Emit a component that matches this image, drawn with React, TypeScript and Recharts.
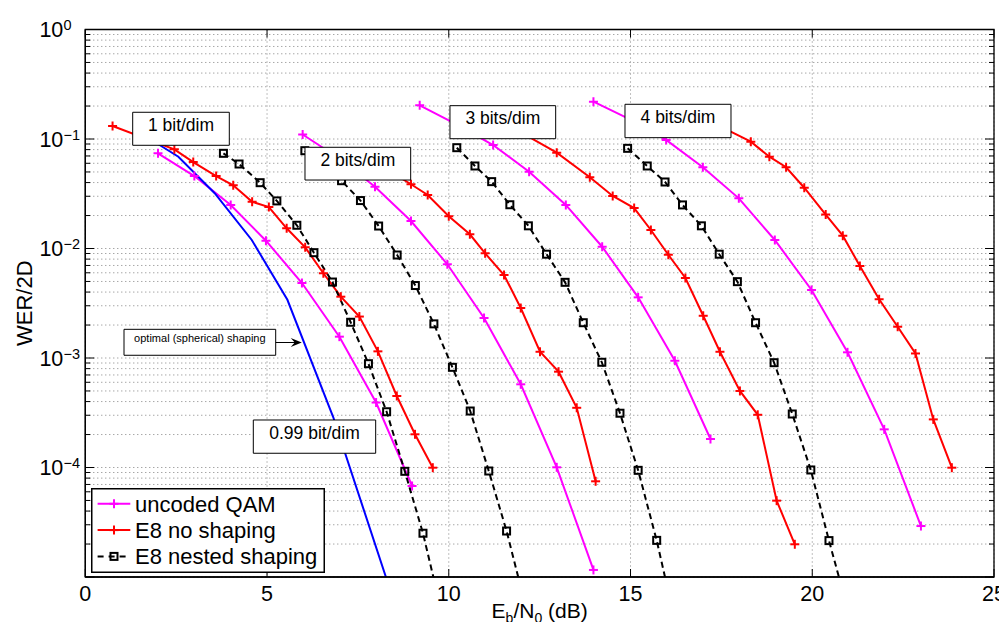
import React from 'react';
import { LineChart, Line, XAxis, YAxis, CartesianGrid, ReferenceArea, ReferenceLine, Legend } from 'recharts';

// ---------- data (Eb/N0 in dB, WER/2D) ----------
// 1 bit/dim
const QAM1_X = [2.0, 3.0, 4.0, 4.97, 5.96, 6.99, 8.0, 8.99];
const QAM1_Y = [0.074, 0.0459, 0.025, 0.01178, 0.00484, 0.001566, 0.000392, 0.0000678];
const E8_1_X = [0.75, 2.45, 2.97, 3.6, 4.07, 4.59, 5.05, 5.54, 6.05, 6.55, 7.03, 7.54, 8.05, 8.57, 9.07, 9.56];
const E8_1_Y = [0.1315, 0.0805, 0.0616, 0.0459, 0.0378, 0.0267, 0.0239, 0.0153, 0.01025, 0.00594, 0.00363, 0.00239, 0.00115, 0.00045, 0.000201, 0.0000996];
const NEST1_X = [3.8, 4.23, 4.81, 5.27, 5.82, 6.29, 6.8, 7.3, 7.79, 8.29, 8.79, 9.29, 9.79];
const NEST1_Y = [0.074, 0.0591, 0.0399, 0.0272, 0.0163, 0.00916, 0.00494, 0.00212, 0.000887, 0.000323, 0.0000923, 0.0000251, 0.000005];
// optimal (spherical) shaping, 0.99 bit/dim
const OPT_X = [2.0, 2.56, 3.56, 4.58, 5.56, 6.82, 8.27];
const OPT_Y = [0.09, 0.0689, 0.032, 0.01196, 0.0034, 0.000289, 0.00001];
// 2 bits/dim
const QAM2_X = [5.98, 7.0, 7.97, 8.96, 9.96, 10.97, 11.98, 12.97, 13.98];
const QAM2_Y = [0.11, 0.066, 0.0367, 0.01783, 0.00718, 0.00232, 0.000575, 0.0001004, 0.0000116];
const E8_2_X = [8.45, 8.96, 9.42, 10.0, 10.58, 11.0, 11.52, 11.98, 12.51, 13.02, 13.52, 14.04];
const E8_2_Y = [0.049, 0.0386, 0.0308, 0.01967, 0.01349, 0.00904, 0.00573, 0.00286, 0.00114, 0.00075, 0.000351, 0.0000748];
const NEST2_X = [6.04, 6.55, 7.05, 7.57, 8.07, 8.58, 9.08, 9.59, 10.1, 10.59, 11.1, 11.59, 12.09];
const NEST2_Y = [0.0782, 0.0575, 0.0416, 0.0274, 0.01604, 0.00872, 0.00459, 0.00205, 0.000822, 0.000328, 0.0000929, 0.0000263, 0.0000058];
// 3 bits/dim
const QAM3_X = [9.2, 10.2, 11.22, 12.21, 13.22, 14.22, 15.21, 16.22, 17.2];
const QAM3_Y = [0.203, 0.137, 0.0881, 0.0503, 0.025, 0.01038, 0.00358, 0.000944, 0.000182];
const E8_3_X = [11.96, 12.97, 13.88, 14.51, 15.1, 15.56, 16.04, 16.51, 17.0, 17.46, 18.01, 18.5, 19.02, 19.52];
const E8_3_Y = [0.116, 0.075, 0.0447, 0.0302, 0.0234, 0.01476, 0.00877, 0.00538, 0.00243, 0.00114, 0.0005, 0.000303, 0.0000498, 0.0000199];
const NEST3_X = [10.22, 10.72, 11.18, 11.68, 12.19, 12.69, 13.2, 13.7, 14.21, 14.71, 15.21, 15.72, 16.22];
const NEST3_Y = [0.0833, 0.0567, 0.0408, 0.0251, 0.01611, 0.00887, 0.00491, 0.0021, 0.000914, 0.000313, 0.0000942, 0.0000216, 0.000004];
// 4 bits/dim
const QAM4_X = [13.98, 15.0, 15.98, 16.99, 17.98, 18.97, 19.98, 20.97, 21.98, 22.99];
const QAM4_Y = [0.219, 0.15, 0.098, 0.0552, 0.0287, 0.01196, 0.00418, 0.001127, 0.000223, 0.0000292];
const E8_4_X = [17.3, 18.31, 18.82, 19.28, 19.78, 20.37, 20.84, 21.31, 21.84, 22.35, 22.84, 23.33, 23.84];
const E8_4_Y = [0.139, 0.0945, 0.0689, 0.0552, 0.0359, 0.0204, 0.0131, 0.00692, 0.00344, 0.00193, 0.0011, 0.000275, 0.0000996];
const NEST4_X = [14.92, 15.46, 15.95, 16.43, 16.95, 17.44, 17.94, 18.44, 18.95, 19.45, 19.96, 20.46, 20.96];
const NEST4_Y = [0.0822, 0.0567, 0.0405, 0.025, 0.01611, 0.00887, 0.00498, 0.0021, 0.000906, 0.000308, 0.0000949, 0.0000215, 0.0000053];

// ---------- axes ----------
const X_TICKS = [0, 5, 10, 15, 20, 25];
const Y_DECADES = [1e-5, 1e-4, 1e-3, 1e-2, 1e-1];
const Y_MINOR_MULTS = [1, 2, 3, 4, 5, 6, 7, 8, 9];
const Y_TICKS = [...Y_DECADES.flatMap((d) => Y_MINOR_MULTS.map((m) => m * d)), 1];
const Y_LABEL_VALUES = [1e-4, 1e-3, 1e-2, 1e-1, 1];
const Y_LABEL_EXPS = ['\u22124', '\u22123', '\u22122', '\u22121', '0'];

const LEGEND_LABELS = ['uncoded QAM', 'E8 no shaping', 'E8 nested shaping'];

// annotation boxes (data coordinates)
const NOTES = [
  { text: '1 bit/dim', x1: 1.304, x2: 3.962, y1: 0.0876, y2: 0.1754, fs: 17.5, base: 18.4 },
  { text: '2 bits/dim', x1: 6.044, x2: 8.952, y1: 0.0422, y2: 0.084, fs: 17.5, base: 18.6 },
  { text: '3 bits/dim', x1: 10.033, x2: 12.941, y1: 0.1006, y2: 0.2015, fs: 17.5, base: 18.6 },
  { text: '4 bits/dim', x1: 14.848, x2: 17.764, y1: 0.1028, y2: 0.2075, fs: 17.5, base: 18.6 },
  { text: '0.99 bit/dim', x1: 4.622, x2: 7.989, y1: 0.0001349, y2: 0.0002716, fs: 17.5, base: 19.2 },
  { text: 'optimal (spherical) shaping', x1: 1.065, x2: 5.238, y1: 0.001059, y2: 0.001828, fs: 11, base: 12.4 },
];
const ARROW = { x1: 5.238, x2: 5.955, y: 0.001385 };

// ---------- layout ----------
const CHART_W = 999;
const CHART_H = 622;
const M_TOP = 21.5;
const M_RIGHT = 13;
const Y_W = 77.3;
const X_H = 53;
const PLOT_L = Y_W;
const PLOT_T = M_TOP;
const PLOT_R = CHART_W - M_RIGHT;
const PLOT_B = CHART_H - X_H;
const FONT = '"Liberation Sans", Arial, Helvetica, sans-serif';
const TOP_Z = 1500;

const STYLE: Record<string, { color: string; dash?: string; marker: 'plus' | 'square' | null }> = {
  qam: { color: '#ff00ff', marker: 'plus' },
  e8: { color: '#ff0000', marker: 'plus' },
  nest: { color: '#000000', dash: '6 4', marker: 'square' },
  opt: { color: '#0000ff', marker: null },
};

const SERIES = [
  { id: 'qam1', kind: 'qam', xs: QAM1_X, ys: QAM1_Y },
  { id: 'qam2', kind: 'qam', xs: QAM2_X, ys: QAM2_Y },
  { id: 'qam3', kind: 'qam', xs: QAM3_X, ys: QAM3_Y },
  { id: 'qam4', kind: 'qam', xs: QAM4_X, ys: QAM4_Y },
  { id: 'opt', kind: 'opt', xs: OPT_X, ys: OPT_Y },
  { id: 'e81', kind: 'e8', xs: E8_1_X, ys: E8_1_Y },
  { id: 'e82', kind: 'e8', xs: E8_2_X, ys: E8_2_Y },
  { id: 'e83', kind: 'e8', xs: E8_3_X, ys: E8_3_Y },
  { id: 'e84', kind: 'e8', xs: E8_4_X, ys: E8_4_Y },
  { id: 'n1', kind: 'nest', xs: NEST1_X, ys: NEST1_Y },
  { id: 'n2', kind: 'nest', xs: NEST2_X, ys: NEST2_Y },
  { id: 'n3', kind: 'nest', xs: NEST3_X, ys: NEST3_Y },
  { id: 'n4', kind: 'nest', xs: NEST4_X, ys: NEST4_Y },
];

const toPoints = (xs: number[], ys: number[]) => xs.map((x, i) => ({ x, y: ys[i] }));

const markerShape = (kind: 'plus' | 'square', color: string, cx: number, cy: number, key?: string) => {
  if (kind === 'plus') {
    return (
      <g key={key}>
        <line x1={cx - 4.5} x2={cx + 4.5} y1={cy} y2={cy} stroke={color} strokeWidth={2} />
        <line x1={cx} x2={cx} y1={cy - 4.5} y2={cy + 4.5} stroke={color} strokeWidth={2} />
      </g>
    );
  }
  return <rect key={key} x={cx - 3.5} y={cy - 3.5} width={7} height={7} fill="none" stroke={color} strokeWidth={2} />;
};

const makeDot = (kind: 'plus' | 'square', color: string) => (p: any) => {
  const k = `dot-${p.index}`;
  if (p.cx == null || p.cy == null || !isFinite(p.cx) || !isFinite(p.cy)) return <g key={k} />;
  return markerShape(kind, color, p.cx, p.cy, k);
};

const isMajor = (v: number) => {
  const lg = Math.log10(v);
  return Math.abs(lg - Math.round(lg)) < 1e-6;
};

const YTick = (props: any) => {
  const v = props.payload.value;
  const y = props.payload.coordinate;
  const len = isMajor(v) ? 9 : 5;
  const idx = Y_LABEL_VALUES.findIndex((t) => Math.abs(Math.log10(t) - Math.log10(v)) < 1e-6);
  return (
    <g>
      <line x1={PLOT_L} x2={PLOT_L + len} y1={y} y2={y} stroke="#000" strokeWidth={1} />
      <line x1={PLOT_R - len} x2={PLOT_R} y1={y} y2={y} stroke="#000" strokeWidth={1} />
      {idx >= 0 && (
        <g fontFamily={FONT} fill="#000">
          <text x={PLOT_L - 22} y={y + 7.8} textAnchor="end" fontSize={21.5}>10</text>
          <text x={PLOT_L - 21.8} y={y + 0.5} textAnchor="start" fontSize={14.5}>{Y_LABEL_EXPS[idx]}</text>
        </g>
      )}
    </g>
  );
};

const XTick = (props: any) => {
  const x = props.payload.coordinate;
  return (
    <g>
      <line x1={x} x2={x} y1={PLOT_B} y2={PLOT_B - 8} stroke="#000" strokeWidth={1} />
      <line x1={x} x2={x} y1={PLOT_T} y2={PLOT_T + 8} stroke="#000" strokeWidth={1} />
      <text x={x} y={PLOT_B + 24} textAnchor="middle" fontSize={21.5} fontFamily={FONT} fill="#000">
        {props.payload.value}
      </text>
    </g>
  );
};

const XTitle = () => (
  <text x={(PLOT_L + PLOT_R) / 2} y={PLOT_B + 41.3} textAnchor="middle" fontSize={21} fontFamily={FONT} fill="#000">
    <tspan>E</tspan>
    <tspan fontSize={14} dy={5}>b</tspan>
    <tspan dy={-5}>/N</tspan>
    <tspan fontSize={14} dy={5}>0</tspan>
    <tspan dy={-5}> (dB)</tspan>
  </text>
);

const YTitle = () => {
  const cy = (PLOT_T + PLOT_B) / 2;
  return (
    <text x={23.5} y={cy} transform={`rotate(-90 23.5 ${cy})`} textAnchor="middle" fontSize={22} fontFamily={FONT} fill="#000">
      WER/2D
    </text>
  );
};

const LegendBox = () => {
  const rows = [
    { label: LEGEND_LABELS[0], st: STYLE.qam },
    { label: LEGEND_LABELS[1], st: STYLE.e8 },
    { label: LEGEND_LABELS[2], st: STYLE.nest },
  ];
  return (
    <svg width={234} height={85} style={{ display: 'block' }}>
      <rect x={0.75} y={0.75} width={232.5} height={83.5} fill="#fff" stroke="#000" strokeWidth={1.5} />
      {rows.map((r, i) => {
        const cy = 15.8 + i * 26.3;
        return (
          <g key={r.label}>
            <line x1={6.6} x2={39.3} y1={cy} y2={cy} stroke={r.st.color} strokeWidth={2} strokeDasharray={r.st.dash ? '6 5' : undefined} />
            {r.st.marker && markerShape(r.st.marker, r.st.color, 23, cy)}
            <text x={44} y={cy + 7.7} fontSize={22} fontFamily={FONT} fill="#000">{r.label}</text>
          </g>
        );
      })}
    </svg>
  );
};

const makeNoteLabel = (n: (typeof NOTES)[number]) => (p: any) => {
  const vb = p.viewBox || {};
  return (
    <text x={vb.x + vb.width / 2} y={vb.y + n.base} textAnchor="middle" fontSize={n.fs} fontFamily={FONT} fill="#000">
      {n.text}
    </text>
  );
};

const ArrowShape = (p: any) => {
  const { x1, y1, x2, y2 } = p;
  return (
    <g>
      <line x1={x1} y1={y1} x2={x2 - 6} y2={y2} stroke="#000" strokeWidth={1} />
      <polygon points={`${x2},${y2} ${x2 - 11},${y2 - 4.5} ${x2 - 7},${y2} ${x2 - 11},${y2 + 4.5}`} fill="#000" />
    </g>
  );
};

export default function App() {
  return (
    <div style={{ width: CHART_W, height: 614, fontFamily: FONT, position: 'relative' }}>
      <LineChart width={CHART_W} height={CHART_H} margin={{ top: M_TOP, right: M_RIGHT, bottom: 0, left: 0 }}>
        <CartesianGrid stroke="#808080" strokeDasharray="1 3" strokeWidth={1} />
        <XAxis
          type="number"
          dataKey="x"
          domain={[0, 25]}
          ticks={X_TICKS}
          interval={0}
          allowDataOverflow
          height={X_H}
          tickLine={false}
          axisLine={{ stroke: '#000', strokeWidth: 1.3 }}
          tick={<XTick />}
          label={<XTitle />}
        />
        <YAxis
          type="number"
          scale="log"
          domain={[1e-5, 1]}
          ticks={Y_TICKS}
          interval={0}
          allowDataOverflow
          width={Y_W}
          tickLine={false}
          axisLine={{ stroke: '#000', strokeWidth: 1.3 }}
          tick={<YTick />}
          label={<YTitle />}
        />
        {SERIES.map((s) => {
          const st = STYLE[s.kind];
          return (
            <Line
              key={s.id}
              data={toPoints(s.xs, s.ys)}
              dataKey="y"
              type="linear"
              stroke={st.color}
              strokeWidth={2}
              strokeDasharray={st.dash}
              dot={st.marker ? makeDot(st.marker, st.color) : false}
              activeDot={false}
              legendType="none"
              isAnimationActive={false}
            />
          );
        })}
        <ReferenceArea x1={0} x2={25} y1={1e-5} y2={1} fill="none" stroke="#000" strokeWidth={1.3} zIndex={TOP_Z} />
        {NOTES.map((n) => (
          <ReferenceArea
            key={n.text}
            x1={n.x1}
            x2={n.x2}
            y1={n.y1}
            y2={n.y2}
            fill="#fff"
            fillOpacity={1}
            stroke="#000"
            strokeWidth={1}
            zIndex={TOP_Z}
            label={makeNoteLabel(n)}
          />
        ))}
        <ReferenceLine
          segment={[
            { x: ARROW.x1, y: ARROW.y },
            { x: ARROW.x2, y: ARROW.y },
          ]}
          zIndex={TOP_Z}
          shape={ArrowShape}
        />
        <Legend
          layout="vertical"
          verticalAlign="middle"
          align="center"
          wrapperStyle={{ position: 'absolute', left: 82.7, top: 479.7, width: 234, height: 85, margin: 0, padding: 0 }}
          content={() => <LegendBox />}
        />
      </LineChart>
    </div>
  );
}
